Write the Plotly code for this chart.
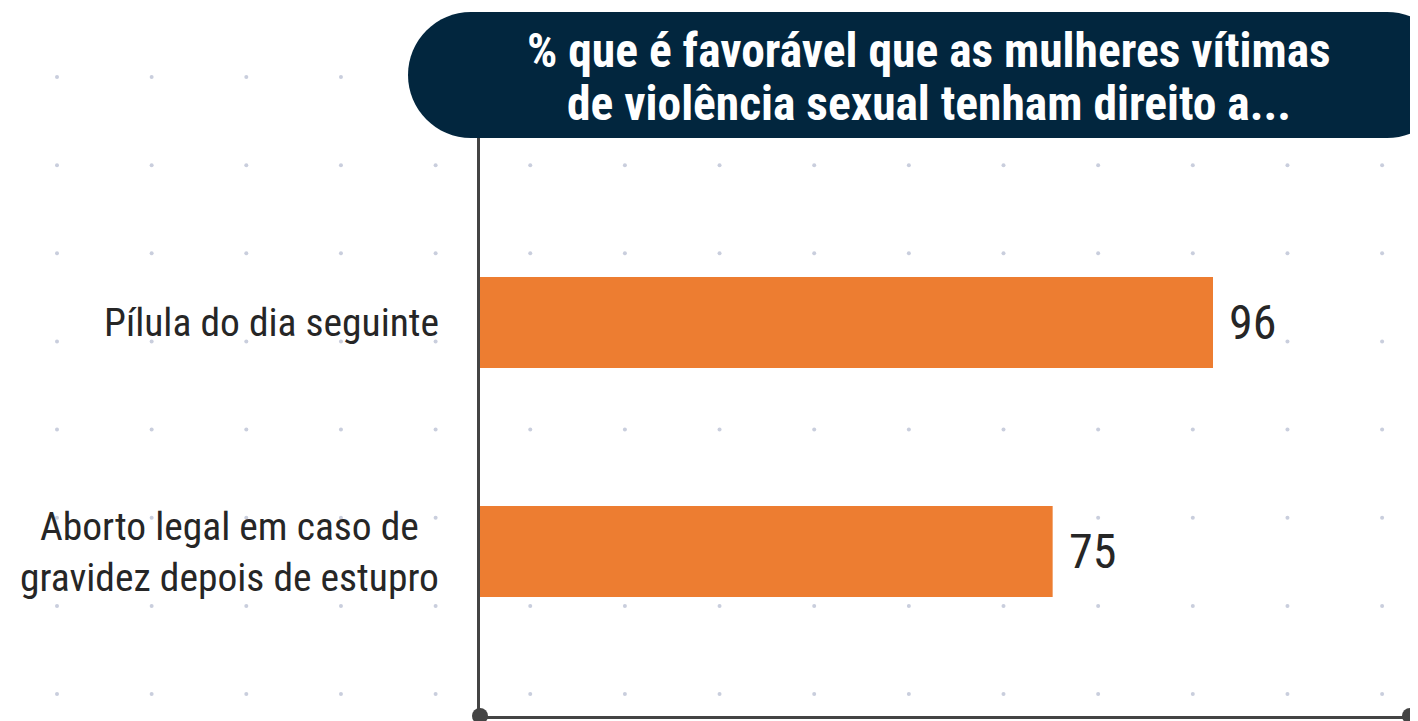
import plotly.graph_objects as go

# ---- data ----
categories = ["Pílula do dia seguinte", "Aborto legal em caso de<br>gravidez depois de estupro"]
values = [96, 75]
title_lines = ["% que é favorável que as mulheres vítimas", "de violência sexual tenham direito a..."]

# ---- styling constants ----
OFF = 8                      # page body margin of the html page
W, H = 1418 - OFF, 721 - OFF  # figure size so it fits the window exactly
FONT = "Liberation Sans Narrow, Arial Narrow, Roboto Condensed, Liberation Sans, sans-serif"
BAR_COLOR = "#ED7D31"
NAVY = "#02263E"
AXIS_COLOR = "#444444"
TEXT_COLOR = "#262626"

# plot area in window pixels
PX_L, PX_R, PX_T, PX_B = 480, 1410, 138, 716


def px(x):
    return (x - OFF) / W


def py(y):
    return 1 - (y - OFF) / H


fig = go.Figure()

# background dot grid (decoration) on a full-figure helper axis
dot_x0, dot_dx, n_dx = 57, 94.65, 15
dot_y0, dot_dy, n_dy = 77, 88.15, 8
dx_list, dy_list = [], []
for i in range(n_dx):
    for j in range(n_dy):
        dx_list.append(dot_x0 + i * dot_dx)
        dy_list.append(dot_y0 + j * dot_dy)
fig.add_trace(go.Scatter(x=dx_list, y=dy_list, mode="markers",
                         marker=dict(size=4, color="#C9CEDD"),
                         xaxis="x", yaxis="y", hoverinfo="skip", showlegend=False))

# bars
fig.add_trace(go.Bar(x=values, y=categories, orientation="h",
                     marker=dict(color=BAR_COLOR, line=dict(width=0)),
                     width=0.397, xaxis="x2", yaxis="y2", showlegend=False,
                     hoverinfo="x+y"))

x_max = values[0] * (PX_R - PX_L) / (1213 - PX_L)
band = 229.0
y_top = -(322.5 - PX_T) / band
y_bot = (len(categories) - 1) + (PX_B - 551.5) / band

fig.update_layout(
    width=W, height=H,
    margin=dict(l=0, r=0, t=0, b=0),
    paper_bgcolor="white",
    plot_bgcolor="rgba(0,0,0,0)",
    font=dict(family=FONT, color=TEXT_COLOR),
    xaxis=dict(domain=[0, 1], range=[OFF, OFF + W], visible=False, fixedrange=True),
    yaxis=dict(domain=[0, 1], range=[OFF + H, OFF], visible=False, fixedrange=True),
    xaxis2=dict(domain=[px(PX_L), px(PX_R)], range=[0, x_max], anchor="y2",
                showgrid=False, zeroline=False, showticklabels=False, ticks="",
                showline=True, linecolor=AXIS_COLOR, linewidth=3),
    yaxis2=dict(domain=[py(PX_B), py(PX_T)], range=[y_bot, y_top], anchor="x2",
                type="category", categoryorder="array", categoryarray=categories,
                showgrid=False, zeroline=False, showticklabels=False, ticks="",
                showline=True, linecolor=AXIS_COLOR, linewidth=3),
)

shapes = []
# title pill box
x0, x1, yt, yb, r = 408, 1450, 12, 138, 63
k = 0.5523 * r
path = (f"M {px(x0 + r)},{py(yt)} L {px(x1 - r)},{py(yt)} "
        f"C {px(x1 - r + k)},{py(yt)} {px(x1)},{py(yt + r - k)} {px(x1)},{py(yt + r)} "
        f"C {px(x1)},{py(yb - r + k)} {px(x1 - r + k)},{py(yb)} {px(x1 - r)},{py(yb)} "
        f"L {px(x0 + r)},{py(yb)} "
        f"C {px(x0 + r - k)},{py(yb)} {px(x0)},{py(yb - r + k)} {px(x0)},{py(yb - r)} "
        f"C {px(x0)},{py(yt + r - k)} {px(x0 + r - k)},{py(yt)} {px(x0 + r)},{py(yt)} Z")
shapes.append(dict(type="path", xref="paper", yref="paper", path=path,
                   fillcolor=NAVY, line=dict(width=0), layer="above"))
# axis end dots
for cx in (PX_L, PX_R):
    shapes.append(dict(type="circle", xref="paper", yref="paper",
                       x0=px(cx - 8), x1=px(cx + 8), y0=py(PX_B + 8), y1=py(PX_B - 8),
                       fillcolor=AXIS_COLOR, line=dict(width=0), layer="above"))
fig.update_layout(shapes=shapes)

annotations = []
# title lines
for i, line in enumerate(title_lines):
    annotations.append(dict(text=f"<b>{line}</b>", xref="paper", yref="paper",
                            x=px(929), y=py(51 + i * 53), xanchor="center", yanchor="middle",
                            showarrow=False, font=dict(size=47.5, color="white", family=FONT)))
# category labels
for cat in categories:
    annotations.append(dict(text=cat, xref="paper", yref="y2", x=px(441), y=cat,
                            xanchor="right", yanchor="middle",
                            showarrow=False, align="center",
                            font=dict(size=39.5, color=TEXT_COLOR, family=FONT)))
# value labels
for cat, v in zip(categories, values):
    annotations.append(dict(text=str(v), xref="x2", yref="y2", x=v, y=cat,
                            xanchor="left", yanchor="middle", xshift=14,
                            showarrow=False,
                            font=dict(size=48, color=TEXT_COLOR, family=FONT)))
fig.update_layout(annotations=annotations)

fig.write_html("out.html")
